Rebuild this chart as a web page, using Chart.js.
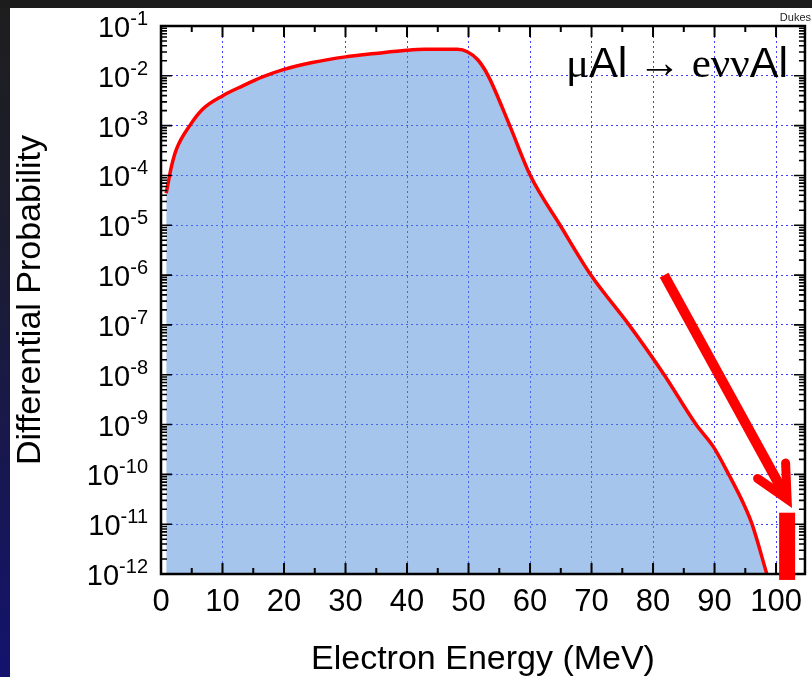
<!DOCTYPE html>
<html>
<head>
<meta charset="utf-8">
<script src="https://cdn.jsdelivr.net/npm/chart.js@4.4.1/dist/chart.umd.min.js"></script>
<style>
  html, body { margin: 0; padding: 0; background: #1c1c1c; }
  canvas { display: block; }
</style>
</head>
<body>
<canvas id="spectrumChart" width="812" height="677"></canvas>
<script>
// electron energy (MeV) and differential probability
const energies = [0.85, 1.72, 2.53, 4.68, 6.8, 10.05, 13.3, 16.5, 20, 24.6, 30, 34.8, 39.9, 42.8, 48.2, 49.8,
  51.5, 53.2, 56.7, 60.05, 64.9, 69.9, 76.1, 81.8, 87, 89.8, 92.3, 94.9, 96.1, 98.5];
const probabilities = [4.4e-5, 1.55e-4, 3.4e-4, 1.0e-3, 2.15e-3, 4.0e-3, 6.3e-3, 9.5e-3, 1.35e-2, 1.85e-2,
  2.4e-2, 2.8e-2, 3.25e-2, 3.4e-2, 3.4e-2, 3.05e-2, 2.1e-2, 1.0e-2, 1.0e-3, 1.0e-4, 1.0e-5, 1.0e-6,
  1.0e-7, 1.0e-8, 1.0e-9, 3.6e-10, 1.0e-10, 2.3e-11, 1.0e-11, 1.0e-12];

// axis ticks
const energyTicks = [0, 10, 20, 30, 40, 50, 60, 70, 80, 90, 100];
const energyMinorTicks = [5, 15, 25, 35, 45, 55, 65, 75, 85, 95];
const exponents = [-1, -2, -3, -4, -5, -6, -7, -8, -9, -10, -11, -12];

// annotation: arrow towards the endpoint and the conversion-electron bar (data units)
const arrowFrom = { x: 81.8, y: 1.0e-6 };
const arrowTo = { x: 101.8, y: 3.2e-11 };
const signalBar = { x0: 100.5, x1: 103.1, top: 1.7e-11, bottom: 7.6e-13 };

const sans = '"Liberation Sans", Arial, sans-serif';
const serif = '"Liberation Serif", "Times New Roman", serif';
const gridBlue = "rgba(30,30,255,0.85)";

const ctx = document.getElementById("spectrumChart").getContext("2d");

// dark frame + white page behind the plot
const backdrop = {
  id: "backdrop",
  beforeDraw(chart) {
    const c = chart.ctx;
    c.save();
    c.fillStyle = "#1c1c1c";
    c.fillRect(0, 0, chart.width, chart.height);
    const g = c.createLinearGradient(0, 0, 0, chart.height);
    g.addColorStop(0, "#1e1e1e");
    g.addColorStop(0.35, "#1c1c30");
    g.addColorStop(1, "#13136e");
    c.fillStyle = g;
    c.fillRect(0, 8, 10, chart.height - 8);
    c.fillStyle = "#ffffff";
    c.fillRect(10, 8, chart.width - 10, chart.height - 8);
    c.restore();
  }
};

// frame, inward ticks, superscript labels and annotations
const decorations = {
  id: "decorations",
  afterDraw(chart) {
    const c = chart.ctx;
    const xs = chart.scales.x;
    const ys = chart.scales.y;
    const a = chart.chartArea;
    c.save();

    // frame
    c.strokeStyle = "#000";
    c.lineWidth = 2.5;
    c.strokeRect(a.left, a.top, a.right - a.left, a.bottom - a.top);

    // x ticks (bottom + top)
    c.lineWidth = 2;
    const xTick = (v, len) => {
      const px = xs.getPixelForValue(v);
      c.beginPath();
      c.moveTo(px, a.bottom); c.lineTo(px, a.bottom - len);
      c.moveTo(px, a.top); c.lineTo(px, a.top + len);
      c.stroke();
    };
    energyTicks.forEach(v => xTick(v, 11));
    energyMinorTicks.forEach(v => xTick(v, 6));

    // y ticks (left + right), log minors
    c.lineWidth = 1.6;
    const yTick = (v, len) => {
      const py = ys.getPixelForValue(v);
      c.beginPath();
      c.moveTo(a.left, py); c.lineTo(a.left + len, py);
      c.moveTo(a.right, py); c.lineTo(a.right - len, py);
      c.stroke();
    };
    exponents.forEach(e => {
      yTick(Math.pow(10, e), 11);
      if (e < -1) {
        for (let m = 2; m <= 9; m++) yTick(m * Math.pow(10, e), 6);
      }
    });

    // y labels 10^-n
    c.fillStyle = "#000";
    c.textBaseline = "alphabetic";
    c.textAlign = "right";
    exponents.forEach(e => {
      const py = ys.getPixelForValue(Math.pow(10, e));
      const sup = "-" + Math.abs(e);
      c.font = "20px " + sans;
      const sw = c.measureText(sup).width;
      c.fillText(sup, 148, py - 1);
      c.font = "29px " + sans;
      c.fillText("10", 148 - sw, py + 11);
    });

    // reaction label
    const pieces = [
      { t: "\u03bc", f: serif },
      { t: "Al", f: sans },
      { t: " \u2192 ", f: serif },
      { t: "e\u03bd\u03bd", f: serif },
      { t: "Al", f: sans }
    ];
    c.textAlign = "left";
    let tx = 566;
    pieces.forEach(p => {
      c.font = "43px " + p.f;
      c.fillText(p.t, tx, 77);
      tx += c.measureText(p.t).width;
    });

    // small credit
    c.font = "11px " + sans;
    c.fillStyle = "#222";
    c.textAlign = "right";
    c.fillText("Dukes", 811, 21);

    // arrow
    const x0 = xs.getPixelForValue(arrowFrom.x), y0 = ys.getPixelForValue(arrowFrom.y);
    const x1 = xs.getPixelForValue(arrowTo.x), y1 = ys.getPixelForValue(arrowTo.y);
    const ang = Math.atan2(y1 - y0, x1 - x0);
    c.strokeStyle = "#ff0000";
    c.lineCap = "butt";
    c.lineWidth = 10;
    c.beginPath();
    c.moveTo(x0, y0);
    c.lineTo(x1 - 6 * Math.cos(ang), y1 - 6 * Math.sin(ang));
    c.stroke();
    const head = 36, spread = 0.46;
    c.lineWidth = 9;
    c.lineCap = "round";
    c.lineJoin = "miter";
    c.beginPath();
    c.moveTo(x1 - head * Math.cos(ang - spread), y1 - head * Math.sin(ang - spread));
    c.lineTo(x1, y1);
    c.lineTo(x1 - head * Math.cos(ang + spread), y1 - head * Math.sin(ang + spread));
    c.stroke();

    // signal bar
    const bx0 = xs.getPixelForValue(signalBar.x0), bx1 = xs.getPixelForValue(signalBar.x1);
    const by0 = ys.getPixelForValue(signalBar.top), by1 = ys.getPixelForValue(signalBar.bottom);
    c.fillStyle = "#ff0000";
    c.fillRect(bx0, by0, bx1 - bx0, by1 - by0);

    c.restore();
  }
};

const chart = new Chart(ctx, {
  type: "line",
  data: {
    datasets: [
      {
        label: "Differential Probability",
        data: energies.map((e, i) => ({ x: e, y: probabilities[i] })),
        borderColor: "#ff0000",
        borderWidth: 3.5,
        backgroundColor: "rgba(75,140,220,0.5)",
        fill: "start",
        pointRadius: 0,
        cubicInterpolationMode: "monotone"
      }
    ]
  },
  options: {
    responsive: false,
    devicePixelRatio: 1,
    animation: false,
    layout: { padding: { top: 26, right: 2, bottom: 0, left: 0 } },
    plugins: {
      legend: { display: false },
      tooltip: { enabled: false }
    },
    scales: {
      x: {
        type: "linear",
        min: 0,
        max: 104.7,
        afterBuildTicks: s => { s.ticks = energyTicks.map(v => ({ value: v })); },
        afterFit: s => { s.height = 103; },
        ticks: {
          color: "#000",
          font: { family: sans, size: 31 },
          padding: 10,
          maxRotation: 0,
          autoSkip: false
        },
        grid: { color: gridBlue, lineWidth: 1, drawTicks: false },
        border: { display: false, dash: [2, 3] },
        title: {
          display: true,
          text: "Electron Energy (MeV)",
          color: "#000",
          font: { family: sans, size: 34, lineHeight: 1 },
          padding: 0
        }
      },
      y: {
        type: "logarithmic",
        min: 1e-12,
        max: 1e-1,
        afterBuildTicks: s => { s.ticks = exponents.map(e => ({ value: Math.pow(10, e) })); },
        afterFit: s => { s.width = 161; },
        ticks: { display: false },
        grid: { color: gridBlue, lineWidth: 1, drawTicks: false },
        border: { display: false, dash: [2, 3] },
        title: {
          display: true,
          text: "Differential Probability",
          color: "#000",
          font: { family: sans, size: 34, lineHeight: 1 },
          padding: { top: 14, bottom: 0 }
        }
      }
    }
  },
  plugins: [backdrop, decorations]
});
</script>
</body>
</html>
